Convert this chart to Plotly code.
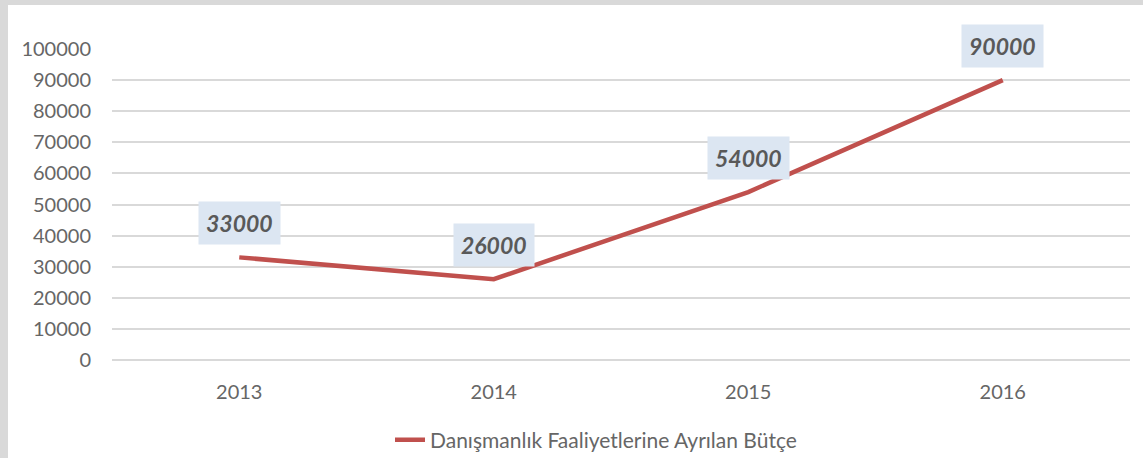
import plotly.graph_objects as go

# Data
years = ["2013", "2014", "2015", "2016"]
budget = [33000, 26000, 54000, 90000]
series_name = "Danışmanlık Faaliyetlerine Ayrılan Bütçe"

fig = go.Figure()

fig.add_trace(go.Scatter(
    x=years, y=budget, mode="lines", name=series_name,
    line=dict(color="#c0504d", width=4.5),
))

# data labels in light-blue boxes above each point (x by category index)
for i, val in enumerate(budget):
    fig.add_annotation(
        x=i, y=val, text="<b><i>%d</i></b>" % val, showarrow=False,
        yshift=34, bgcolor="#dce6f2", borderpad=7,
        font=dict(family="Lato", size=23, color="#595959"),
    )

# grey frame on left and top edges
fig.add_shape(type="rect", xref="paper", yref="paper",
              x0=(8 - 112) / 1018, x1=1.2, y0=-0.5, y1=1 + 44 / 311,
              fillcolor="white", line_width=0, layer="below")

fig.update_layout(
    width=1143, height=458,
    margin=dict(l=112, r=13, t=49, b=98, autoexpand=False),
    paper_bgcolor="#d9d9d9", plot_bgcolor="white",
    font=dict(family="Lato", size=20, color="#666666"),
    showlegend=True,
    legend=dict(orientation="h", x=(596 - 112) / 1018, xanchor="center", yref="container",
                y=(458 - 440) / 458, yanchor="middle",
                font=dict(size=21, color="#666666"), bgcolor="rgba(0,0,0,0)"),
)
fig.update_xaxes(type="category", range=[-0.5, 3.5], showgrid=False, showline=False,
                 ticks="", ticklabelstandoff=18, tickfont=dict(size=20, color="#666666"))
fig.update_yaxes(range=[0, 100000], dtick=10000, showgrid=True, gridcolor="#d9d9d9",
                 gridwidth=1.5, zeroline=True, zerolinecolor="#d9d9d9", zerolinewidth=1.5,
                 ticks="", ticklen=0, tickformat="d", ticklabelstandoff=20,
                 tickfont=dict(size=20, color="#666666"))

fig.write_html("out.html", config={"displayModeBar": False},
               post_script="document.body.style.margin='0';")
